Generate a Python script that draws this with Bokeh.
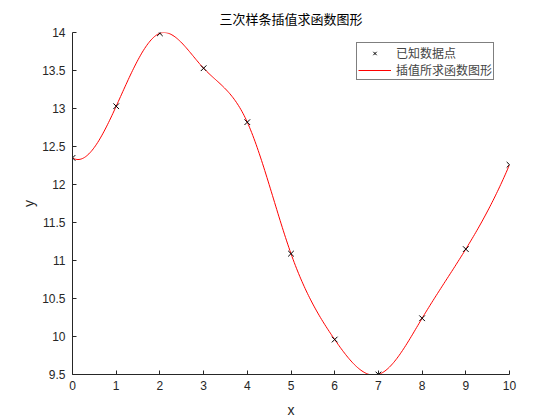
import numpy as np
from bokeh.plotting import figure
from bokeh.models import Range1d, Legend, LegendItem, FixedTicker
from bokeh.embed import file_html
from bokeh.resources import INLINE

# ---- data ----
x_known = [0, 1, 2, 3, 4, 5, 6, 7, 8, 9, 10]
y_known = [12.35, 13.03, 13.99, 13.53, 12.82, 11.09, 9.96, 9.50, 10.24, 11.15, 12.26]
x_ticks = [0, 1, 2, 3, 4, 5, 6, 7, 8, 9, 10]
y_ticks = [9.5, 10, 10.5, 11, 11.5, 12, 12.5, 13, 13.5, 14]
y_tick_labels = ["9.5", "10", "10.5", "11", "11.5", "12", "12.5", "13", "13.5", "14"]
title_text = "三次样条插值求函数图形"
legend_labels = ["已知数据点", "插值所求函数图形"]


# cubic spline (not-a-knot, as the chart's title states) through the known points
def spline_not_a_knot(xs, ys, xq):
    xs = np.asarray(xs, float)
    ys = np.asarray(ys, float)
    n = len(xs) - 1
    h = np.diff(xs)
    A = np.zeros((n + 1, n + 1))
    b = np.zeros(n + 1)
    for i in range(1, n):
        A[i, i - 1] = h[i - 1]
        A[i, i] = 2 * (h[i - 1] + h[i])
        A[i, i + 1] = h[i]
        b[i] = 6 * ((ys[i + 1] - ys[i]) / h[i] - (ys[i] - ys[i - 1]) / h[i - 1])
    A[0, 0] = -1 / h[0]
    A[0, 1] = 1 / h[0] + 1 / h[1]
    A[0, 2] = -1 / h[1]
    A[n, n - 2] = -1 / h[n - 2]
    A[n, n - 1] = 1 / h[n - 2] + 1 / h[n - 1]
    A[n, n] = -1 / h[n - 1]
    M = np.linalg.solve(A, b)
    xq = np.asarray(xq, float)
    idx = np.clip(np.searchsorted(xs, xq) - 1, 0, n - 1)
    x0, x1 = xs[idx], xs[idx + 1]
    hh = x1 - x0
    return (M[idx] * (x1 - xq) ** 3 / (6 * hh) + M[idx + 1] * (xq - x0) ** 3 / (6 * hh)
            + (ys[idx] / hh - M[idx] * hh / 6) * (x1 - xq)
            + (ys[idx + 1] / hh - M[idx + 1] * hh / 6) * (xq - x0))


xx = np.linspace(x_known[0], x_known[-1], 401)
yy = spline_not_a_knot(x_known, y_known, xx)

FONT = "Liberation Sans"
CJK = "Noto Sans CJK SC"
AX = "#262626"

p = figure(width=556, height=420, output_backend="svg", toolbar_location=None,
           x_range=Range1d(0, 10), y_range=Range1d(9.5, 14),
           min_border_left=72, min_border_right=47, min_border_top=32, min_border_bottom=46)
p.outline_line_color = None
p.xgrid.visible = False
p.ygrid.visible = False

p.title.text = title_text
p.title.align = "center"
p.title.text_font = CJK
p.title.text_font_size = "13px"
p.title.text_font_style = "normal"
p.title.text_color = "black"

line_r = p.line(xx, yy, line_color="red", line_width=1)
pts_r = p.scatter(x_known, y_known, marker="x", size=8, line_color="black", line_width=1)

p.xaxis.ticker = FixedTicker(ticks=x_ticks)
p.yaxis.ticker = FixedTicker(ticks=y_ticks)
p.yaxis.major_label_overrides = {t: s for t, s in zip(y_ticks, y_tick_labels)}
for ax in (p.xaxis, p.yaxis):
    ax.major_tick_in = 4
    ax.major_tick_out = 0
    ax.minor_tick_in = 0
    ax.minor_tick_out = 0
    ax.axis_line_color = AX
    ax.major_tick_line_color = AX
    ax.major_label_text_font = FONT
    ax.major_label_text_font_size = "12px"
    ax.major_label_text_color = AX
    ax.axis_label_text_font = FONT
    ax.axis_label_text_font_size = "14px"
    ax.axis_label_text_font_style = "normal"
    ax.axis_label_text_color = AX
p.xaxis.axis_label = "x"
p.yaxis.axis_label = "y"
p.xaxis.major_label_standoff = 6
p.yaxis.major_label_standoff = 7
p.xaxis.axis_label_standoff = 9
p.yaxis.axis_label_standoff = 2

legend = Legend(items=[LegendItem(label=legend_labels[0], renderers=[pts_r]),
                       LegendItem(label=legend_labels[1], renderers=[line_r])],
                location=(284, 294))
legend.label_text_font = CJK
legend.label_text_font_size = "12px"
legend.label_height = 12
legend.glyph_width = 33
legend.glyph_height = 12
legend.label_standoff = 5
legend.padding = 1
legend.spacing = 0
legend.margin = 0
legend.border_line_color = "black"
legend.border_line_width = 1
legend.background_fill_alpha = 1
p.add_layout(legend, "center")

open("out.html", "w").write(file_html(p, INLINE))
